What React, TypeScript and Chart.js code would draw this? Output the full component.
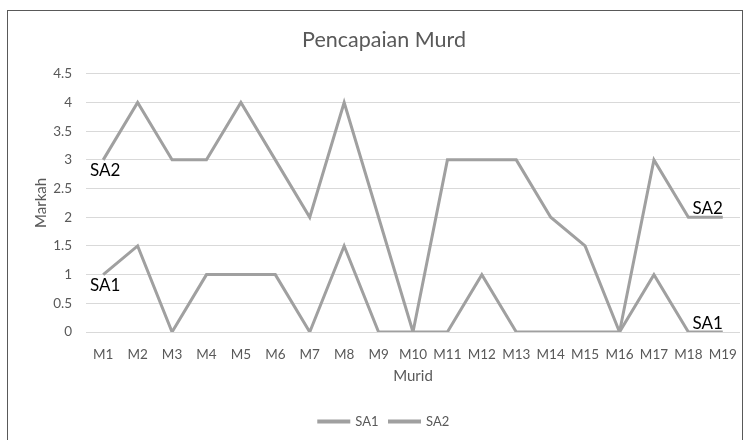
import React, { useEffect, useRef } from "react";
import { Chart, registerables } from "chart.js";

Chart.register(...registerables);

const TITLE = "Pencapaian Murd";
const categories = ["M1","M2","M3","M4","M5","M6","M7","M8","M9","M10","M11","M12","M13","M14","M15","M16","M17","M18","M19"];
const sa1 = [1, 1.5, 0, 1, 1, 1, 0, 1.5, 0, 0, 0, 1, 0, 0, 0, 0, 1, 0, 0];
const sa2 = [3, 4, 3, 3, 4, 3, 2, 4, 2, 0, 3, 3, 3, 2, 1.5, 0, 3, 2, 2];
const seriesNames = ["SA1", "SA2"];
const yMin = 0;
const yMax = 4.5;
const yStep = 0.5;

const FONT = "Lato, 'Open Sans', sans-serif";
const TEXT = "#595959";
const LINE = "#a0a0a0";

const endLabels = {
  id: "endLabels",
  afterDatasetsDraw(chart: any) {
    const ctx = chart.ctx;
    ctx.save();
    ctx.font = `17px ${FONT}`;
    ctx.fillStyle = "#000000";
    chart.data.datasets.forEach((ds: any, i: number) => {
      const meta = chart.getDatasetMeta(i);
      const first = meta.data[0];
      const last = meta.data[meta.data.length - 1];
      ctx.textAlign = "center";
      ctx.textBaseline = "top";
      ctx.fillText(ds.label, first.x + 2, first.y + 2);
      ctx.textAlign = "right";
      ctx.textBaseline = "alphabetic";
      ctx.fillText(ds.label, last.x, last.y - 3);
    });
    ctx.restore();
  },
};

export default function App() {
  const ref = useRef<HTMLCanvasElement | null>(null);
  useEffect(() => {
    if (!ref.current) return;
    const chart = new Chart(ref.current, {
      type: "line",
      data: {
        labels: categories,
        datasets: [
          { label: seriesNames[0], data: sa1, borderColor: LINE, backgroundColor: LINE, borderWidth: 3, pointRadius: 0, tension: 0 },
          { label: seriesNames[1], data: sa2, borderColor: LINE, backgroundColor: LINE, borderWidth: 3, pointRadius: 0, tension: 0 },
        ],
      },
      options: {
        animation: false,
        responsive: false,
        maintainAspectRatio: false,
        layout: { padding: { left: 28, right: 11, top: 0, bottom: 2 } },
        plugins: {
          title: {
            display: true,
            text: TITLE,
            color: TEXT,
            font: { family: FONT, size: 21.5, weight: "normal" },
            padding: { top: 27, bottom: 21 },
          },
          legend: {
            display: true,
            position: "bottom",
            labels: {
              color: TEXT,
              font: { family: FONT, size: 13 },
              boxWidth: 30,
              boxHeight: 1,
              padding: 11,
            },
          },
          tooltip: { enabled: false },
        },
        scales: {
          x: {
            offset: true,
            grid: { display: false },
            border: { display: false },
            ticks: { color: TEXT, font: { family: FONT, size: 13.5 }, padding: 7, maxRotation: 0, autoSkip: false },
            title: { display: true, text: "Murid", color: TEXT, font: { family: FONT, size: 15 }, padding: { top: 4, bottom: 19 } },
            afterFit(scale: any) { scale.height = 72; },
          },
          y: {
            min: yMin,
            max: yMax,
            grid: { color: "#d9d9d9", drawTicks: false, lineWidth: 1 },
            border: { display: false },
            ticks: {
              stepSize: yStep,
              color: TEXT,
              font: { family: FONT, size: 13.5 },
              padding: 14,
              callback: (v: any) => String(Number(v)),
            },
            title: { display: true, text: "Markah", color: TEXT, font: { family: FONT, size: 15 }, padding: { top: 4, bottom: 4 } },
            afterFit(scale: any) { scale.width = 58; },
          },
        },
      },
      plugins: [endLabels],
    });
    return () => chart.destroy();
  }, []);
  return (
    <div style={{ position: "absolute", left: 0, top: 0, width: 751, height: 440, overflow: "hidden", background: "#fff" }}>
      <div style={{ position: "absolute", left: 7, top: 10, width: 736, height: 460, border: "1.5px solid #595959", boxSizing: "border-box" }} />
      <canvas ref={ref} width={751} height={440} style={{ position: "absolute", left: 0, top: 0, width: 751, height: 440 }} />
    </div>
  );
}
